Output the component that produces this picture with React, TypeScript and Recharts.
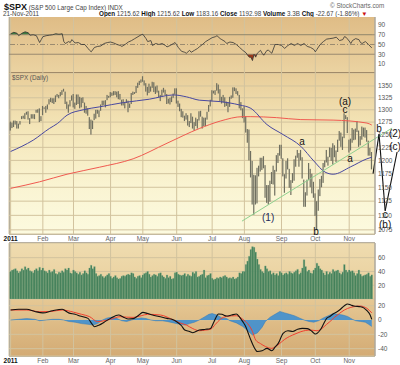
import React from 'react';
import {
  ComposedChart, Bar, Line, Area, XAxis, YAxis, CartesianGrid,
  ReferenceLine, ReferenceDot,
} from 'recharts';

// trading-day index: 0 = 3 Jan 2011 ... 224 = 21 Nov 2011
const monthStarts = [0, 20, 39, 62, 82, 103, 125, 145, 168, 189, 210];
const monthNames = ['2011', 'Feb', 'Mar', 'Apr', 'May', 'Jun', 'Jul', 'Aug', 'Sep', 'Oct', 'Nov'];

// daily highs / lows, month by month
const highs = [
  1276, 1274, 1278, 1278, 1277, 1272, 1277, 1287, 1288, 1293, 1296, 1297, 1283, 1291, 1291, 1291, 1300, 1301, 1303, 1287,
  1308, 1305, 1308, 1311, 1322, 1325, 1324, 1324, 1330, 1333, 1331, 1337, 1341, 1344, 1338, 1317, 1311, 1320, 1330,
  1333, 1315, 1332, 1332, 1327, 1325, 1326, 1315, 1308, 1303, 1285, 1280, 1278, 1292, 1300, 1300, 1299, 1311, 1319, 1319, 1320, 1331, 1329,
  1337, 1336, 1339, 1339, 1338, 1339, 1333, 1321, 1322, 1316, 1322, 1319, 1313, 1335, 1338, 1337, 1350, 1357, 1361, 1364,
  1371, 1362, 1356, 1348, 1355, 1349, 1359, 1358, 1349, 1351, 1340, 1331, 1342, 1346, 1342, 1333, 1323, 1325, 1328, 1334, 1345,
  1345, 1319, 1313, 1302, 1297, 1288, 1293, 1289, 1277, 1293, 1286, 1275, 1284, 1281, 1297, 1298, 1286, 1284, 1284, 1296, 1310, 1321,
  1341, 1340, 1341, 1356, 1353, 1343, 1327, 1331, 1326, 1317, 1316, 1327, 1330, 1347, 1347, 1345, 1339, 1331, 1316, 1303,
  1307, 1287, 1261, 1260, 1218, 1199, 1173, 1172, 1186, 1190, 1205, 1205, 1208, 1191, 1154, 1154, 1162, 1178, 1190, 1182, 1210, 1214, 1230,
  1230, 1204, 1174, 1199, 1204, 1184, 1163, 1176, 1202, 1209, 1220, 1214, 1220, 1206, 1164, 1141, 1164, 1195, 1184, 1175, 1160,
  1139, 1125, 1146, 1165, 1171, 1195, 1200, 1220, 1207, 1225, 1224, 1233, 1229, 1219, 1240, 1257, 1254, 1246, 1293, 1289, 1285,
  1240, 1242, 1263, 1260, 1262, 1277, 1258, 1247, 1266, 1264, 1264, 1259, 1238, 1224, 1216,
];
const lows = [
  1258, 1263, 1265, 1270, 1262, 1262, 1270, 1281, 1282, 1281, 1290, 1280, 1271, 1282, 1282, 1281, 1294, 1294, 1275, 1277,
  1289, 1302, 1294, 1301, 1311, 1316, 1314, 1312, 1316, 1327, 1324, 1328, 1331, 1338, 1312, 1302, 1294, 1307, 1319,
  1305, 1302, 1310, 1312, 1303, 1305, 1314, 1294, 1292, 1288, 1261, 1250, 1261, 1279, 1282, 1292, 1285, 1298, 1309, 1310, 1305, 1320, 1325,
  1326, 1329, 1330, 1331, 1326, 1322, 1321, 1309, 1309, 1303, 1314, 1295, 1304, 1312, 1331, 1333, 1335, 1346, 1352, 1357,
  1359, 1351, 1338, 1330, 1335, 1338, 1346, 1337, 1333, 1336, 1326, 1318, 1327, 1336, 1330, 1312, 1313, 1311, 1316, 1325, 1332,
  1313, 1306, 1297, 1285, 1284, 1277, 1280, 1268, 1265, 1273, 1262, 1258, 1267, 1262, 1278, 1286, 1262, 1267, 1267, 1280, 1296, 1307,
  1318, 1334, 1331, 1340, 1334, 1318, 1313, 1315, 1306, 1308, 1295, 1306, 1323, 1325, 1339, 1333, 1330, 1303, 1299, 1283,
  1274, 1254, 1234, 1200, 1168, 1119, 1101, 1119, 1121, 1170, 1179, 1182, 1185, 1131, 1122, 1119, 1124, 1156, 1155, 1135, 1179, 1195, 1209,
  1203, 1170, 1140, 1166, 1183, 1149, 1136, 1158, 1162, 1188, 1205, 1188, 1200, 1166, 1115, 1115, 1135, 1163, 1150, 1139, 1131,
  1099, 1075, 1108, 1134, 1150, 1158, 1187, 1196, 1190, 1206, 1199, 1192, 1206, 1197, 1216, 1238, 1226, 1220, 1243, 1281, 1253,
  1215, 1219, 1234, 1239, 1240, 1255, 1226, 1229, 1240, 1246, 1244, 1236, 1209, 1209, 1183,
];
// volume in 100M shares
const volumes = [
  40, 42, 43, 44, 41, 38, 40, 44, 42, 47, 43, 45, 41, 40, 38, 42, 44, 41, 46, 42,
  45, 41, 40, 38, 42, 39, 40, 43, 37, 36, 39, 38, 41, 39, 44, 42, 45, 38, 37,
  42, 40, 38, 36, 39, 35, 37, 41, 38, 36, 45, 49, 44, 47, 37, 33, 34, 36, 33, 31, 33, 35, 37,
  33, 30, 32, 34, 31, 29, 30, 33, 34, 33, 35, 36, 35, 38, 37, 32, 30, 33, 34, 31,
  35, 37, 38, 40, 36, 32, 34, 36, 35, 33, 37, 38, 34, 32, 30, 35, 31, 33, 29, 30, 38,
  39, 36, 35, 34, 35, 37, 33, 36, 34, 33, 39, 37, 40, 32, 33, 35, 36, 42, 31, 34, 35, 37,
  30, 28, 29, 31, 30, 32, 31, 33, 34, 32, 30, 31, 30, 32, 29, 30, 32, 38, 37, 40,
  40, 50, 55, 62, 72, 76, 75, 68, 58, 50, 43, 40, 38, 48, 44, 40, 41, 36, 38, 35, 37, 34, 40,
  38, 35, 37, 38, 36, 40, 38, 37, 39, 41, 43, 36, 38, 45, 57, 47, 40, 42, 38, 37, 42,
  45, 52, 48, 44, 42, 38, 35, 40, 36, 39, 37, 43, 40, 41, 42, 38, 36, 39, 50, 42, 39,
  42, 40, 41, 38, 34, 37, 42, 36, 33, 34, 35, 36, 38, 33, 35,
];

// moving averages: [day, value]
const ma50 = [
  [0, 1217], [7, 1227], [14, 1239], [24, 1262], [29, 1272], [35, 1289], [45, 1300], [55, 1306], [70, 1315], [86, 1322],
  [101, 1331], [109, 1327], [117, 1320], [130, 1317], [142, 1310], [149, 1303], [159, 1270], [169, 1250], [180, 1227],
  [188, 1199], [195, 1178], [200, 1174], [211, 1188], [221, 1203], [224, 1206],
];
const ma200 = [
  [0, 1148], [18, 1160], [35, 1174], [55, 1187], [76, 1203], [97, 1233], [117, 1262], [130, 1277], [144, 1286],
  [149, 1286], [165, 1284], [180, 1280], [200, 1279], [221, 1273], [224, 1269],
];

const rsi = [
  [0, 72], [2, 75], [4, 73], [5, 68], [7, 73], [9, 76], [11, 74], [12, 69], [14, 70], [16, 68], [18, 54], [19, 60],
  [20, 66], [22, 68], [24, 69], [26, 70], [28, 72], [30, 71], [32, 72], [33, 56], [34, 52], [36, 56], [37, 54], [38, 60],
  [40, 53], [42, 54], [44, 50], [46, 50], [48, 42], [49, 38], [50, 35], [52, 44], [54, 46], [56, 47], [58, 52], [60, 54],
  [62, 55], [64, 53], [66, 50], [68, 48], [69, 46], [71, 50], [73, 55], [75, 58], [77, 62], [79, 66], [81, 70], [82, 71],
  [84, 62], [85, 56], [87, 58], [88, 48], [90, 52], [92, 50], [94, 52], [96, 48], [97, 45], [99, 48], [101, 52], [102, 54],
  [104, 44], [106, 36], [108, 34], [109, 32], [111, 38], [112, 34], [114, 38], [116, 42], [117, 45], [119, 50], [121, 56],
  [123, 60], [125, 64], [127, 66], [128, 68], [130, 62], [131, 60], [133, 56], [134, 52], [136, 55], [138, 54], [140, 50],
  [142, 44], [144, 38], [146, 33], [147, 28], [148, 24], [149, 24], [150, 17], [151, 30], [152, 24], [153, 32], [155, 38],
  [156, 32], [157, 28], [159, 38], [160, 38], [162, 32], [164, 50], [166, 50], [168, 48], [170, 42], [172, 48], [174, 52],
  [176, 48], [178, 52], [180, 48], [182, 52], [184, 46], [186, 44], [188, 40], [189, 35], [190, 40], [192, 50], [194, 56],
  [196, 61], [198, 62], [200, 63], [202, 65], [204, 58], [206, 60], [207, 66], [208, 65], [210, 57], [211, 52], [212, 58],
  [214, 62], [216, 60], [217, 54], [218, 52], [220, 56], [221, 53], [222, 50], [224, 43],
];

const macdLine = [
  [0, 14], [5, 15], [10, 15], [15, 12], [20, 10], [26, 13], [32, 15], [36, 10], [40, 8], [43, 5.6], [48, 2.3], [50, -4],
  [52, -9.3], [55, -7], [58, -3], [62, 2.3], [67, 7], [70, 4], [73, 1.4], [76, 2], [79, 6], [82, 10.7], [85, 9], [88, 7],
  [92, 5], [97, 2.3], [100, 1], [103, -2.3], [106, -8], [108, -14], [111, -16], [113, -17.7], [117, -14], [121, -13],
  [124, -11.7], [126, -3], [129, 8.4], [131, 8], [134, 5.6], [137, 7], [140, 8.4], [142, 4], [144, -2.3], [146, -10],
  [147, -16], [149, -28], [151, -38], [153, -44], [156, -43], [159, -39.6], [162, -43], [164, -38], [166, -32.6],
  [169, -18.6], [172, -15], [175, -16], [178, -13], [181, -11.7], [184, -12], [187, -16], [189, -19.6], [192, -14],
  [194, -6], [196, 2.3], [198, 5], [200, 8.4], [202, 11], [204, 14], [207, 20], [209, 22.4], [211, 21], [213, 19.6],
  [217, 18.6], [219, 17], [221, 13], [223, 7], [224, 1],
];
const signalLine = [
  [0, 14], [10, 14], [18, 11.6], [25, 12], [32, 14], [39, 11], [44, 8], [49, 4.7], [54, -2.3], [58, -1], [62, 1],
  [68, 4.7], [72, 4], [76, 3.7], [81, 6], [85, 8], [93, 7], [101, 0], [105, -4], [109, -7], [113, -12], [117, -15],
  [121, -14], [124, -13], [127, -6], [130, 1], [134, 5], [140, 6], [144, 1], [147, -5], [150, -16], [152, -28], [155, -33],
  [158, -37], [162, -39.6], [165, -36], [167, -32.6], [170, -27], [173, -23], [177, -19], [180, -16.3], [186, -14],
  [190, -15], [193, -12], [196, -6], [198, -2.3], [201, 4], [204, 9.3], [207, 14], [211, 17.7], [214, 19], [217, 19.6],
  [219, 18.5], [221, 16.3], [224, 10],
];
const histogram = [
  [0, 0], [5, 1], [10, 2], [15, 1], [18, -1], [22, 0], [26, 1], [30, 1], [33, 0], [36, -2], [40, -3], [44, -5], [48, -6],
  [51, -7], [54, -5], [57, 0], [60, 3], [63, 4], [66, 2], [69, -1], [72, -2], [75, 0], [78, 2], [81, 3], [84, 2], [87, 0],
  [90, -1], [94, -1], [97, -2], [101, -4], [105, -6], [108, -7], [111, -5], [114, -3], [117, 0], [120, 4], [123, 8],
  [125, 9], [128, 7], [131, 3], [134, 2], [136, -1], [140, -4], [144, -9], [147, -15], [150, -21], [153, -18], [156, -10],
  [158, -2], [161, 4], [164, 8], [167, 12], [170, 10], [173, 8], [176, 6], [179, 3], [182, 0], [185, -2], [188, -3],
  [191, -1], [194, 3], [197, 6], [200, 9], [203, 8], [206, 7], [209, 5], [212, 1], [214, -1], [217, -2], [220, -3],
  [222, -6], [224, -9],
];

const priceTicks = [1075, 1100, 1125, 1150, 1175, 1200, 1225, 1250, 1275, 1300, 1325, 1350];
const rsiTicks = [10, 30, 50, 70, 90];
const volTicks = [20, 40, 60];
const macdTicks = [-40, -20, 0, 20];

// hand-drawn annotations in chart units
const trendLine = [[143.5, 1090], [236.6, 1263]];
const wavePath = [[224.8, 1175], [228.5, 1251], [232.3, 1108], [239.7, 1216]];
const waveLabels = [
  { d: 207.4, p: 1318, text: '(a)' },
  { d: 207.4, p: 1300, text: 'c' },
  { d: 180.8, p: 1237, text: 'a' },
  { d: 210.5, p: 1203, text: 'a' },
  { d: 159.7, p: 1097, text: '(1)', color: '#1c2a5a' },
  { d: 189.4, p: 1072, text: 'b' },
  { d: 228.5, p: 1263, text: 'b' },
  { d: 238.4, p: 1253, text: '(2)' },
  { d: 238.4, p: 1226, text: '(c)' },
  { d: 232.3, p: 1101, text: 'c' },
  { d: 232.3, p: 1085, text: '(b)' },
];

const X_DOMAIN = [-1, 226];
const RSI_DOMAIN = [-8.5, 106.4];
const PRICE_DOMAIN = [1068, 1378];
const VOL_DOMAIN = [0, 81.3];
const MACD_DOMAIN = [-50.3, 29.4];

const toPts = (arr: number[][]) => arr.map(([d, v]) => ({ d, v }));
const days = highs.map((h, i) => ({ d: i, range: [lows[i], h], vol: volumes[i] }));

const margin = { top: 0, right: 0, bottom: 0, left: 9 };
const axisTick = { fontSize: 6.5, fill: '#555' };
const gridStroke = '#d2c39e';

function MonthTick({ x, y, payload }: any) {
  const i = monthStarts.indexOf(payload.value);
  const first = i === 0;
  return (
    <text x={x} y={y} dy={6.5} textAnchor="middle" fontSize={6.5}
      fontWeight={first ? 'bold' : 'normal'} fill={first ? '#111' : '#666'}>
      {monthNames[i]}
    </text>
  );
}

function PriceBar(props: any) {
  const { x, y, width, height } = props;
  return <rect x={x + width / 2 - 0.6} y={y} width={1.2} height={Math.max(height, 1)} fill="#6f6f60" />;
}

function RightAxis({ domain, ticks, scale }: any) {
  return (
    <YAxis orientation="right" width={25} domain={domain} ticks={ticks} scale={scale || 'auto'}
      tick={axisTick} tickSize={0} tickMargin={3} axisLine={{ stroke: '#9a9a9a' }} interval={0} />
  );
}

export default function App() {
  const rsiH = 56;
  const y70 = (rsiH * (RSI_DOMAIN[1] - 70)) / (RSI_DOMAIN[1] - RSI_DOMAIN[0]);
  const y30 = (rsiH * (RSI_DOMAIN[1] - 30)) / (RSI_DOMAIN[1] - RSI_DOMAIN[0]);

  const panel = (top: number, height: number, bg: string) => (
    <div style={{
      position: 'absolute', left: 9, top, width: 366, height, background: bg,
      borderLeft: '1px solid #9a9a9a', boxSizing: 'border-box',
    }} />
  );

  return (
    <div style={{
      position: 'relative', width: 400, height: 365, background: '#fff', overflow: 'hidden',
      fontFamily: '"Liberation Sans", Arial, sans-serif',
    }}>
      <style>{'body{margin:0}'}</style>

      {/* header */}
      <div style={{ position: 'absolute', left: 4, top: 0, whiteSpace: 'nowrap', lineHeight: '10px' }}>
        <span style={{ fontSize: 9, fontWeight: 'bold', color: '#111' }}>$SPX</span>
        <span style={{ fontSize: 6.3, color: '#444' }}> (S&amp;P 500 Large Cap Index) INDX</span>
      </div>
      <div style={{ position: 'absolute', left: 330, top: 2, fontSize: 6.3, color: '#666', whiteSpace: 'nowrap' }}>
        © StockCharts.com
      </div>
      <div style={{ position: 'absolute', left: 3, top: 10, fontSize: 6.3, color: '#444', whiteSpace: 'nowrap' }}>
        21-Nov-2011
      </div>
      <div style={{ position: 'absolute', left: 99, top: 10, fontSize: 6.3, color: '#444', whiteSpace: 'nowrap' }}>
        <b style={{ color: '#111' }}>Open</b> 1215.62 <b style={{ color: '#111' }}>High</b> 1215.62{' '}
        <b style={{ color: '#111' }}>Low</b> 1183.16 <b style={{ color: '#111' }}>Close</b> 1192.98{' '}
        <b style={{ color: '#111' }}>Volume</b> 3.3B <b style={{ color: '#111' }}>Chg</b> -22.67 (-1.86%){' '}
        <span style={{ color: '#cc1111' }}>▼</span>
      </div>

      {/* panel backgrounds */}
      {panel(17, 56, 'linear-gradient(#dfbc86, #ebd3a2)')}
      {panel(73, 161, 'linear-gradient(#e8cd99 0%, #f4e6b9 35%, #faf4d2 70%, #fcfadf 100%)')}
      {panel(243, 56, 'linear-gradient(#efdcb0, #e8cd99)')}
      {panel(299, 57, 'linear-gradient(#e6c894, #d3ab74)')}
      <div style={{ position: 'absolute', left: 9, top: 72, width: 366, height: 1, background: '#a08a6a' }} />
      <div style={{ position: 'absolute', left: 9, top: 234, width: 366, height: 1, background: '#b8b0a0' }} />
      <div style={{ position: 'absolute', left: 9, top: 242, width: 366, height: 1, background: '#b8b0a0' }} />
      <div style={{ position: 'absolute', left: 9, top: 356, width: 366, height: 1, background: '#b8b0a0' }} />

      {/* RSI */}
      <div style={{ position: 'absolute', left: 0, top: 17 }}>
        <ComposedChart width={400} height={rsiH} margin={margin}>
          <defs>
            <linearGradient id="rsiFill" gradientUnits="userSpaceOnUse" x1="0" y1="0" x2="0" y2={rsiH}>
              <stop offset={y70 / rsiH} stopColor="#3f7d3f" />
              <stop offset={y70 / rsiH} stopColor="#3f7d3f" stopOpacity={0} />
              <stop offset={y30 / rsiH} stopColor="#9c3a1a" stopOpacity={0} />
              <stop offset={y30 / rsiH} stopColor="#9c3a1a" />
            </linearGradient>
          </defs>
          <XAxis dataKey="d" type="number" domain={X_DOMAIN} ticks={monthStarts} hide />
          {RightAxis({ domain: RSI_DOMAIN, ticks: rsiTicks })}
          <CartesianGrid horizontal={false} stroke={gridStroke} />
          <ReferenceLine y={70} stroke="#9a8a70" />
          <ReferenceLine y={30} stroke="#9a8a70" />
          <ReferenceLine y={50} stroke="#9a8a70" strokeDasharray="5 2 1 2" />
          <Area data={toPts(rsi)} dataKey="v" type="linear" baseValue={70} fill="url(#rsiFill)" fillOpacity={1}
            stroke="none" isAnimationActive={false} />
          <Line data={toPts(rsi)} dataKey="v" type="linear" stroke="#333" strokeWidth={0.8} dot={false}
            isAnimationActive={false} />
        </ComposedChart>
      </div>

      {/* price */}
      <div style={{ position: 'absolute', left: 0, top: 73 }}>
        <ComposedChart width={400} height={170} margin={margin} data={days}>
          <XAxis dataKey="d" type="number" domain={X_DOMAIN} ticks={monthStarts} height={9} interval={0}
            tick={<MonthTick />} tickSize={0} tickMargin={0} axisLine={false} />
          {RightAxis({ domain: PRICE_DOMAIN, ticks: priceTicks, scale: 'log' })}
          <CartesianGrid stroke={gridStroke} />
          <Bar dataKey="range" barSize={1} shape={<PriceBar />} isAnimationActive={false} />
          <Line data={toPts(ma200)} dataKey="v" type="monotone" stroke="#f05a50" strokeWidth={1} dot={false}
            isAnimationActive={false} />
          <Line data={toPts(ma50)} dataKey="v" type="monotone" stroke="#4848a0" strokeWidth={1} dot={false}
            isAnimationActive={false} />
          <ReferenceLine ifOverflow="visible" stroke="#8fd08f" strokeWidth={1}
            segment={trendLine.map(([d, p]) => ({ x: d, y: p }))} />
          {wavePath.slice(1).map(([d, p], i) => (
            <ReferenceLine key={'w' + i} ifOverflow="visible" stroke="#111" strokeWidth={1.1}
              segment={[{ x: wavePath[i][0], y: wavePath[i][1] }, { x: d, y: p }]} />
          ))}
          {waveLabels.map((w, i) => (
            <ReferenceDot key={'l' + i} x={w.d} y={w.p} r={0} ifOverflow="visible" stroke="none"
              label={{ value: w.text, position: 'center', fontSize: 10, fill: w.color || '#111' }} />
          ))}
        </ComposedChart>
      </div>
      <div style={{ position: 'absolute', left: 12, top: 74, fontSize: 6.3, color: '#555' }}>$SPX (Daily)</div>

      {/* volume */}
      <div style={{ position: 'absolute', left: 0, top: 243 }}>
        <ComposedChart width={400} height={56} margin={margin} data={days}>
          <XAxis dataKey="d" type="number" domain={X_DOMAIN} ticks={monthStarts} hide />
          {RightAxis({ domain: VOL_DOMAIN, ticks: volTicks })}
          <CartesianGrid stroke={gridStroke} />
          <Bar dataKey="vol" barSize={1.6} fill="#3f7d56" stroke="#86b08f" strokeWidth={0.3}
            isAnimationActive={false} />
        </ComposedChart>
      </div>

      {/* MACD */}
      <div style={{ position: 'absolute', left: 0, top: 299 }}>
        <ComposedChart width={400} height={66} margin={margin}>
          <XAxis dataKey="d" type="number" domain={X_DOMAIN} ticks={monthStarts} height={9} interval={0}
            tick={<MonthTick />} tickSize={0} tickMargin={0} axisLine={false} />
          {RightAxis({ domain: MACD_DOMAIN, ticks: macdTicks })}
          <CartesianGrid stroke={gridStroke} />
          <Area data={toPts(histogram)} dataKey="v" type="linear" baseValue={0} fill="#3f8fd0" fillOpacity={0.9}
            stroke="#2f78b8" strokeWidth={0.5} isAnimationActive={false} />
          <Line data={toPts(signalLine)} dataKey="v" type="monotone" stroke="#f04030" strokeWidth={1} dot={false}
            isAnimationActive={false} />
          <Line data={toPts(macdLine)} dataKey="v" type="monotone" stroke="#111" strokeWidth={1.1} dot={false}
            isAnimationActive={false} />
        </ComposedChart>
      </div>
    </div>
  );
}
